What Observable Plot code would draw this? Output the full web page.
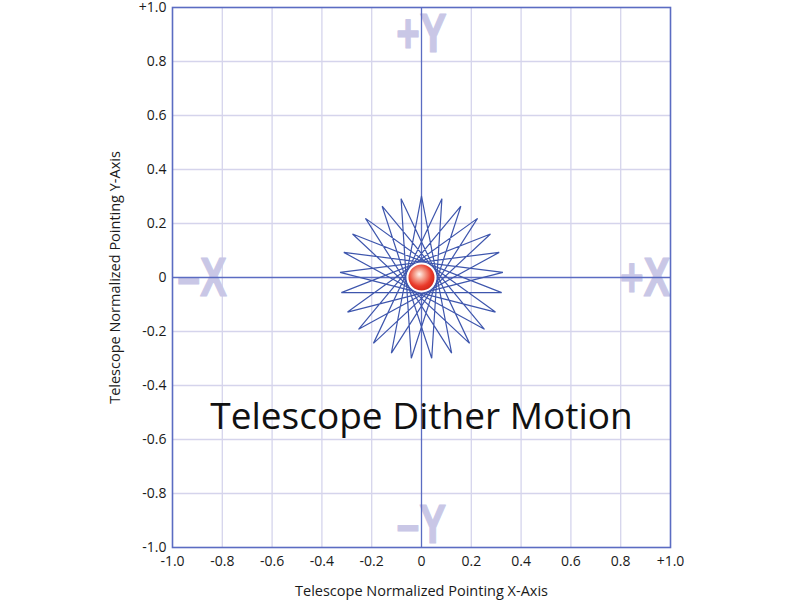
<!DOCTYPE html>
<html>
<head>
<meta charset="utf-8">
<script src="https://cdn.jsdelivr.net/npm/d3@7"></script>
<script src="https://cdn.jsdelivr.net/npm/@observablehq/plot@0.6"></script>
<style>
  html, body { margin: 0; padding: 0; background: #fff; }
  #chart { width: 800px; height: 600px; }
</style>
</head>
<body>
<div id="chart"></div>
<script>
// ---- data ----
const tickValues = [-1, -0.8, -0.6, -0.4, -0.2, 0, 0.2, 0.4, 0.6, 0.8, 1];
const tickLabels = ["-1.0", "-0.8", "-0.6", "-0.4", "-0.2", "0", "0.2", "0.4", "0.6", "0.8", "+1.0"];
const gridValues = [-0.8, -0.6, -0.4, -0.2, 0.2, 0.4, 0.6, 0.8];

// dither star: 25 outer vertices (in axis units)
const vertX = [0, -0.082, -0.158, -0.225, -0.277, -0.312, -0.327, -0.322, -0.297, -0.253, -0.193, -0.121, -0.041,
               0.041, 0.121, 0.193, 0.253, 0.297, 0.322, 0.327, 0.312, 0.277, 0.225, 0.158, 0.082];
const vertY = [0.301, 0.292, 0.264, 0.219, 0.161, 0.093, 0.019, -0.056, -0.128, -0.192, -0.244, -0.280, -0.299,
               -0.299, -0.280, -0.244, -0.192, -0.128, -0.056, 0.019, 0.093, 0.161, 0.219, 0.264, 0.292];
// order in which the telescope visits the vertices
const starOrder = [0, 11, 22, 8, 19, 5, 16, 2, 13, 24, 10, 21, 7, 18, 4, 15, 1, 12, 23, 9, 20, 6, 17, 3, 14, 0];

const ballX = [0];
const ballY = [0];

const dirLabels = ["+X", "–X", "+Y", "–Y"];
const title = "Telescope Dither Motion";
const xLabel = "Telescope Normalized Pointing X-Axis";
const yLabel = "Telescope Normalized Pointing Y-Axis";

// ---- build ----
const path = starOrder.map(i => ({x: vertX[i], y: vertY[i]}));
const balls = ballX.map((x, i) => ({x, y: ballY[i]}));
const fmt = d => tickLabels[tickValues.findIndex(v => Math.abs(v - d) < 1e-9)];

const gridColor = "#d5d4ec";
const axisColor = "#5b6cc2";
const labelColor = "#c9c7e6";
const bigFont = "'Liberation Sans', Arial, sans-serif";

const bigText = (t, opts) => Plot.text([t], {
  text: d => d, fill: labelColor, stroke: labelColor, strokeWidth: 1.2,
  fontSize: 56, fontWeight: "bold", fontFamily: bigFont, className: "bigdir", ...opts
});

const plot = Plot.plot({
  width: 800,
  height: 600,
  marginLeft: 172,
  marginRight: 130,
  marginTop: 7,
  marginBottom: 53,
  style: {fontFamily: "'Open Sans', sans-serif", fontSize: "14px", color: "#1a1a1a", background: "#fff"},
  x: {domain: [-1, 1]},
  y: {domain: [-1, 1]},
  marks: [
    Plot.gridX(gridValues, {stroke: gridColor, strokeOpacity: 1, strokeWidth: 1.3}),
    Plot.gridY(gridValues, {stroke: gridColor, strokeOpacity: 1, strokeWidth: 1.3}),
    bigText(dirLabels[0], {frameAnchor: "right", textAnchor: "end", lineAnchor: "middle", dy: 1}),
    bigText(dirLabels[1], {frameAnchor: "left", textAnchor: "start", lineAnchor: "middle", dx: 5, dy: 1}),
    bigText(dirLabels[2], {frameAnchor: "top", textAnchor: "middle", lineAnchor: "top", dy: 5}),
    bigText(dirLabels[3], {frameAnchor: "bottom", textAnchor: "middle", lineAnchor: "bottom", dy: -5}),
    Plot.ruleX([0], {stroke: axisColor, strokeWidth: 1.3}),
    Plot.ruleY([0], {stroke: axisColor, strokeWidth: 1.3}),
    Plot.frame({stroke: axisColor, strokeWidth: 1.6}),
    Plot.axisX(tickValues, {tickSize: 0, tickPadding: 9, tickFormat: fmt, fontSize: 14, label: null}),
    Plot.axisY(tickValues, {tickSize: 0, tickPadding: 6, tickFormat: fmt, fontSize: 14, label: null}),
    Plot.text([xLabel], {text: d => d, frameAnchor: "bottom", textAnchor: "middle", lineAnchor: "middle", dy: 44,
      fontSize: 14.5, fill: "#1a1a1a"}),
    Plot.text([yLabel], {text: d => d, frameAnchor: "left", textAnchor: "middle", lineAnchor: "middle",
      rotate: -90, dx: -57, fontSize: 14.5, fill: "#1a1a1a"}),
    Plot.line(path, {x: "x", y: "y", stroke: "#3e56ad", strokeWidth: 1.2, strokeLinejoin: "miter"}),
    Plot.dot(balls, {x: "x", y: "y", r: 14, fill: "#e8392c", stroke: "#fff", strokeWidth: 2}),
    Plot.text([title], {text: d => d, frameAnchor: "top", textAnchor: "middle", lineAnchor: "bottom", dy: 421,
      fontSize: 37, fill: "#111", fontFamily: "'Open Sans', sans-serif", letterSpacing: "0.5px"})
  ]
});

document.getElementById("chart").appendChild(plot);

const svg = d3.select(plot);

// condense the big direction letters horizontally, keeping their anchor edge fixed
svg.selectAll("g.bigdir text").each(function() {
  const t = d3.select(this);
  const tr = t.attr("transform") || "";
  t.attr("transform", tr + " scale(0.72,1)");
});

// radial gradient for the ball
const defs = svg.insert("defs", ":first-child");
const g = defs.append("radialGradient").attr("id", "ballGrad")
  .attr("cx", "45%").attr("cy", "42%").attr("r", "58%").attr("fx", "42%").attr("fy", "38%");
g.append("stop").attr("offset", "0%").attr("stop-color", "#fff4ef");
g.append("stop").attr("offset", "30%").attr("stop-color", "#f5a593");
g.append("stop").attr("offset", "70%").attr("stop-color", "#ea3b2b");
g.append("stop").attr("offset", "100%").attr("stop-color", "#cf2418");
svg.selectAll("g[aria-label='dot'] circle").attr("fill", "url(#ballGrad)");
</script>
</body>
</html>
